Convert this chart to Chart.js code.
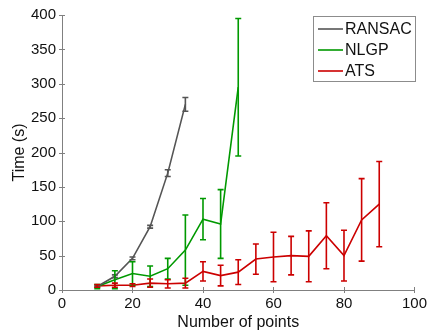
<!DOCTYPE html>
<html>
<head>
<meta charset="utf-8">
<script src="https://cdn.jsdelivr.net/npm/chart.js@4.4.1/dist/chart.umd.min.js"></script>
<style>
  html, body { margin: 0; padding: 0; background: #fff; }
  #wrap { width: 432px; height: 335px; }
</style>
</head>
<body>
<div id="wrap"><canvas id="chart"></canvas></div>
<script>
// number of points on x, mean time and +/- error for each method
const ransacPoints = [10, 15, 20, 25, 30, 35];
const ransacTime = [5, 20, 46, 92, 170, 270];
const ransacErr = [1, 2, 2, 2, 5, 10];

const nlgpPoints = [10, 15, 20, 25, 30, 35, 40, 45, 50];
const nlgpTime = [5, 15, 24, 20, 31, 58, 103, 96, 295];
const nlgpErr = [3, 13, 17, 15, 15, 51, 30, 50, 100];

const atsPoints = [10, 15, 20, 25, 30, 35, 40, 45, 50, 55, 60, 65, 70, 75, 80, 85, 90];
const atsTime = [6, 7, 7, 10, 9, 10, 27, 21, 26, 45, 48, 50, 49, 79, 50, 102, 125];
const atsErr = [2, 3, 2, 6, 6, 7, 14, 15, 18, 22, 36, 28, 37, 48, 37, 60, 62];

const xTicks = [0, 20, 40, 60, 80, 100];
const yTicks = [0, 50, 100, 150, 200, 250, 300, 350, 400];

const FONT = "'Liberation Sans', Arial, sans-serif";
const AXIS_COLOR = '#808080';
const TEXT_COLOR = '#111';

function toXY(xs, ys) {
  return xs.map((x, i) => ({ x: x, y: ys[i] }));
}

function series(label, xs, ys, errs, color) {
  return {
    label: label,
    data: toXY(xs, ys),
    errors: errs,
    borderColor: color,
    backgroundColor: color,
    borderWidth: 1.6,
    pointRadius: 0,
    showLine: true,
    tension: 0
  };
}

// vertical error bars with small caps, drawn in data space
const errorBars = {
  id: 'errorBars',
  afterDatasetsDraw(chart) {
    const ctx = chart.ctx;
    const xs = chart.scales.x, ys = chart.scales.y;
    chart.data.datasets.forEach(ds => {
      ctx.save();
      ctx.strokeStyle = ds.borderColor;
      ctx.lineWidth = 1.6;
      ds.data.forEach((p, i) => {
        const e = ds.errors[i];
        const px = xs.getPixelForValue(p.x);
        const top = ys.getPixelForValue(p.y + e);
        const bot = ys.getPixelForValue(Math.max(p.y - e, 0));
        ctx.beginPath();
        ctx.moveTo(px, top); ctx.lineTo(px, bot);
        ctx.moveTo(px - 3, top); ctx.lineTo(px + 3, top);
        ctx.moveTo(px - 3, bot); ctx.lineTo(px + 3, bot);
        ctx.stroke();
      });
      ctx.restore();
    });
  }
};

// tick marks across the axis lines and the boxed legend in the top right
const decorations = {
  id: 'decorations',
  afterDraw(chart) {
    const ctx = chart.ctx;
    const xs = chart.scales.x, ys = chart.scales.y;
    const area = chart.chartArea;
    ctx.save();
    ctx.strokeStyle = AXIS_COLOR;
    ctx.lineWidth = 1;
    ctx.beginPath();
    yTicks.forEach(v => {
      const py = Math.round(ys.getPixelForValue(v)) + 0.5;
      ctx.moveTo(area.left - 3, py); ctx.lineTo(area.left + 3, py);
    });
    xTicks.forEach(v => {
      const px = Math.round(xs.getPixelForValue(v)) + 0.5;
      ctx.moveTo(px, area.bottom + 3); ctx.lineTo(px, area.bottom - 3);
    });
    ctx.stroke();

    // legend box
    const bx = 313.5, by = 16.5, bw = 102, bh = 65;
    ctx.fillStyle = '#fff';
    ctx.fillRect(bx, by, bw, bh);
    ctx.strokeStyle = '#8c8c8c';
    ctx.strokeRect(bx, by, bw, bh);
    ctx.font = '16px ' + FONT;
    ctx.textBaseline = 'middle';
    ctx.textAlign = 'left';
    chart.data.datasets.forEach((ds, i) => {
      const cy = 29 + i * 21;
      ctx.strokeStyle = ds.borderColor;
      ctx.lineWidth = 1.6;
      ctx.beginPath();
      ctx.moveTo(318, cy); ctx.lineTo(343, cy);
      ctx.stroke();
      ctx.fillStyle = TEXT_COLOR;
      ctx.fillText(ds.label, 345, cy + 1);
    });
    ctx.restore();
  }
};

new Chart(document.getElementById('chart'), {
  type: 'scatter',
  data: {
    datasets: [
      series('RANSAC', ransacPoints, ransacTime, ransacErr, '#555555'),
      series('NLGP', nlgpPoints, nlgpTime, nlgpErr, '#009900'),
      series('ATS', atsPoints, atsTime, atsErr, '#cc0000')
    ]
  },
  options: {
    responsive: true,
    maintainAspectRatio: false,
    animation: false,
    layout: { padding: { top: 12, right: 14, left: 0, bottom: 0 } },
    plugins: {
      legend: { display: false },
      tooltip: { enabled: false }
    },
    scales: {
      x: {
        type: 'linear',
        min: 0,
        max: 100,
        afterFit: scale => { scale.height = 45; },
        afterBuildTicks: scale => { scale.ticks = xTicks.map(v => ({ value: v })); },
        grid: { display: true, drawOnChartArea: false, drawTicks: false },
        border: { display: true, color: AXIS_COLOR, width: 1 },
        ticks: { color: TEXT_COLOR, padding: 5, maxRotation: 0, font: { family: FONT, size: 15 } },
        title: {
          display: true,
          text: 'Number of points',
          color: TEXT_COLOR,
          padding: { top: 0, bottom: 3 },
          font: { family: FONT, size: 16 }
        }
      },
      y: {
        type: 'linear',
        min: 0,
        max: 400,
        afterFit: scale => { scale.width = 62; },
        afterBuildTicks: scale => { scale.ticks = yTicks.map(v => ({ value: v })); },
        grid: { display: true, drawOnChartArea: false, drawTicks: false },
        border: { display: true, color: AXIS_COLOR, width: 1 },
        ticks: { color: TEXT_COLOR, padding: 6, font: { family: FONT, size: 15 } },
        title: {
          display: true,
          text: 'Time (s)',
          color: TEXT_COLOR,
          padding: { top: 10, bottom: 0 },
          font: { family: FONT, size: 16 }
        }
      }
    }
  },
  plugins: [errorBars, decorations]
});
</script>
</body>
</html>
